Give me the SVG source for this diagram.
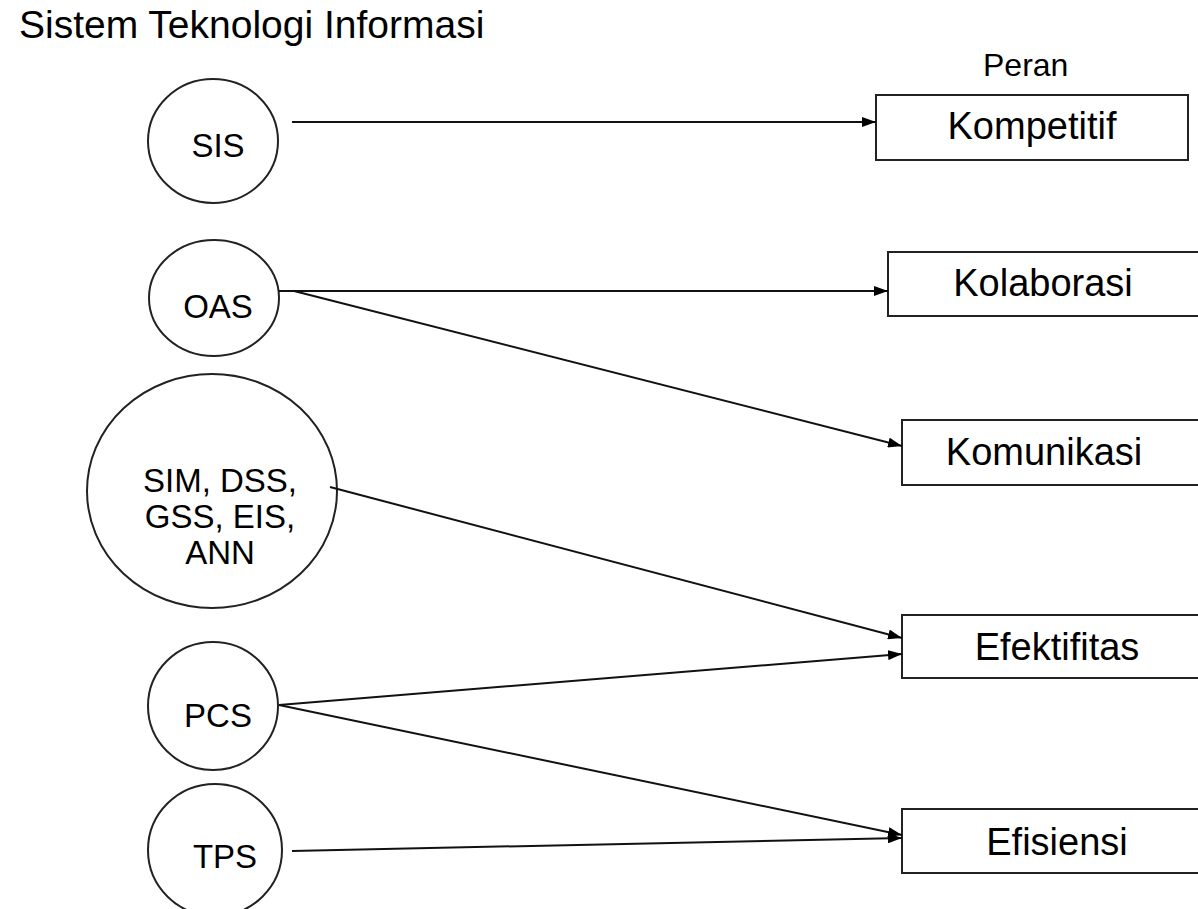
<svg xmlns="http://www.w3.org/2000/svg" width="1198" height="909" viewBox="0 0 1198 909">
<style>
.node{fill:#fff;stroke:#222;stroke-width:2}
.t{font-family:"Liberation Sans",Arial,sans-serif;fill:#000}
.c{font-size:33px;text-anchor:middle}
.b{font-size:38px;text-anchor:middle}
.e{stroke:#111;stroke-width:2;fill:none;marker-end:url(#ah)}
</style>
<defs>
<marker id="ah" viewBox="0 0 14 10" refX="14" refY="5" markerWidth="14" markerHeight="10" markerUnits="userSpaceOnUse" orient="auto">
<path d="M0,0 L14,5 L0,10 z" fill="#000"/>
</marker>
</defs>
<rect width="1198" height="909" fill="#fff"/>
<text class="t" x="19" y="38" font-size="39">Sistem Teknologi Informasi</text>
<text class="t" x="983" y="76" font-size="32">Peran</text>
<g id="sis"><ellipse class="node" cx="213" cy="141" rx="65" ry="62"/><text class="t c" x="218" y="157">SIS</text></g>
<g id="oas"><ellipse class="node" cx="214" cy="298" rx="65" ry="58"/><text class="t c" x="218" y="318">OAS</text></g>
<g id="sim"><ellipse class="node" cx="212" cy="491" rx="125" ry="117"/><text class="t c" x="220" y="492">SIM, DSS,</text><text class="t c" x="220" y="528">GSS, EIS,</text><text class="t c" x="220" y="564">ANN</text></g>
<g id="pcs"><ellipse class="node" cx="213" cy="706" rx="65" ry="64"/><text class="t c" x="218" y="727">PCS</text></g>
<g id="tps"><ellipse class="node" cx="215" cy="850" rx="67" ry="66"/><text class="t c" x="225" y="868">TPS</text></g>
<g id="kompetitif"><rect class="node" x="876" y="95" width="312" height="65"/><text class="t b" x="1032" y="139">Kompetitif</text></g>
<g id="kolaborasi"><rect class="node" x="888" y="252" width="320" height="64"/><text class="t b" x="1043" y="296">Kolaborasi</text></g>
<g id="komunikasi"><rect class="node" x="902" y="420" width="306" height="65"/><text class="t b" x="1044" y="465">Komunikasi</text></g>
<g id="efektifitas"><rect class="node" x="902" y="615" width="306" height="63"/><text class="t b" x="1057" y="660">Efektifitas</text></g>
<g id="efisiensi"><rect class="node" x="902" y="809" width="306" height="64"/><text class="t b" x="1057" y="855">Efisiensi</text></g>
<g id="connectors">
<line class="e" x1="292" y1="122" x2="876" y2="122"/>
<line class="e" x1="279" y1="291" x2="888" y2="291"/>
<line class="e" x1="294" y1="291" x2="902" y2="446"/>
<line class="e" x1="330" y1="487" x2="902" y2="638"/>
<line class="e" x1="279" y1="705" x2="902" y2="654"/>
<line class="e" x1="279" y1="705" x2="902" y2="835"/>
<line class="e" x1="292" y1="851" x2="902" y2="838"/>
</g>
</svg>
